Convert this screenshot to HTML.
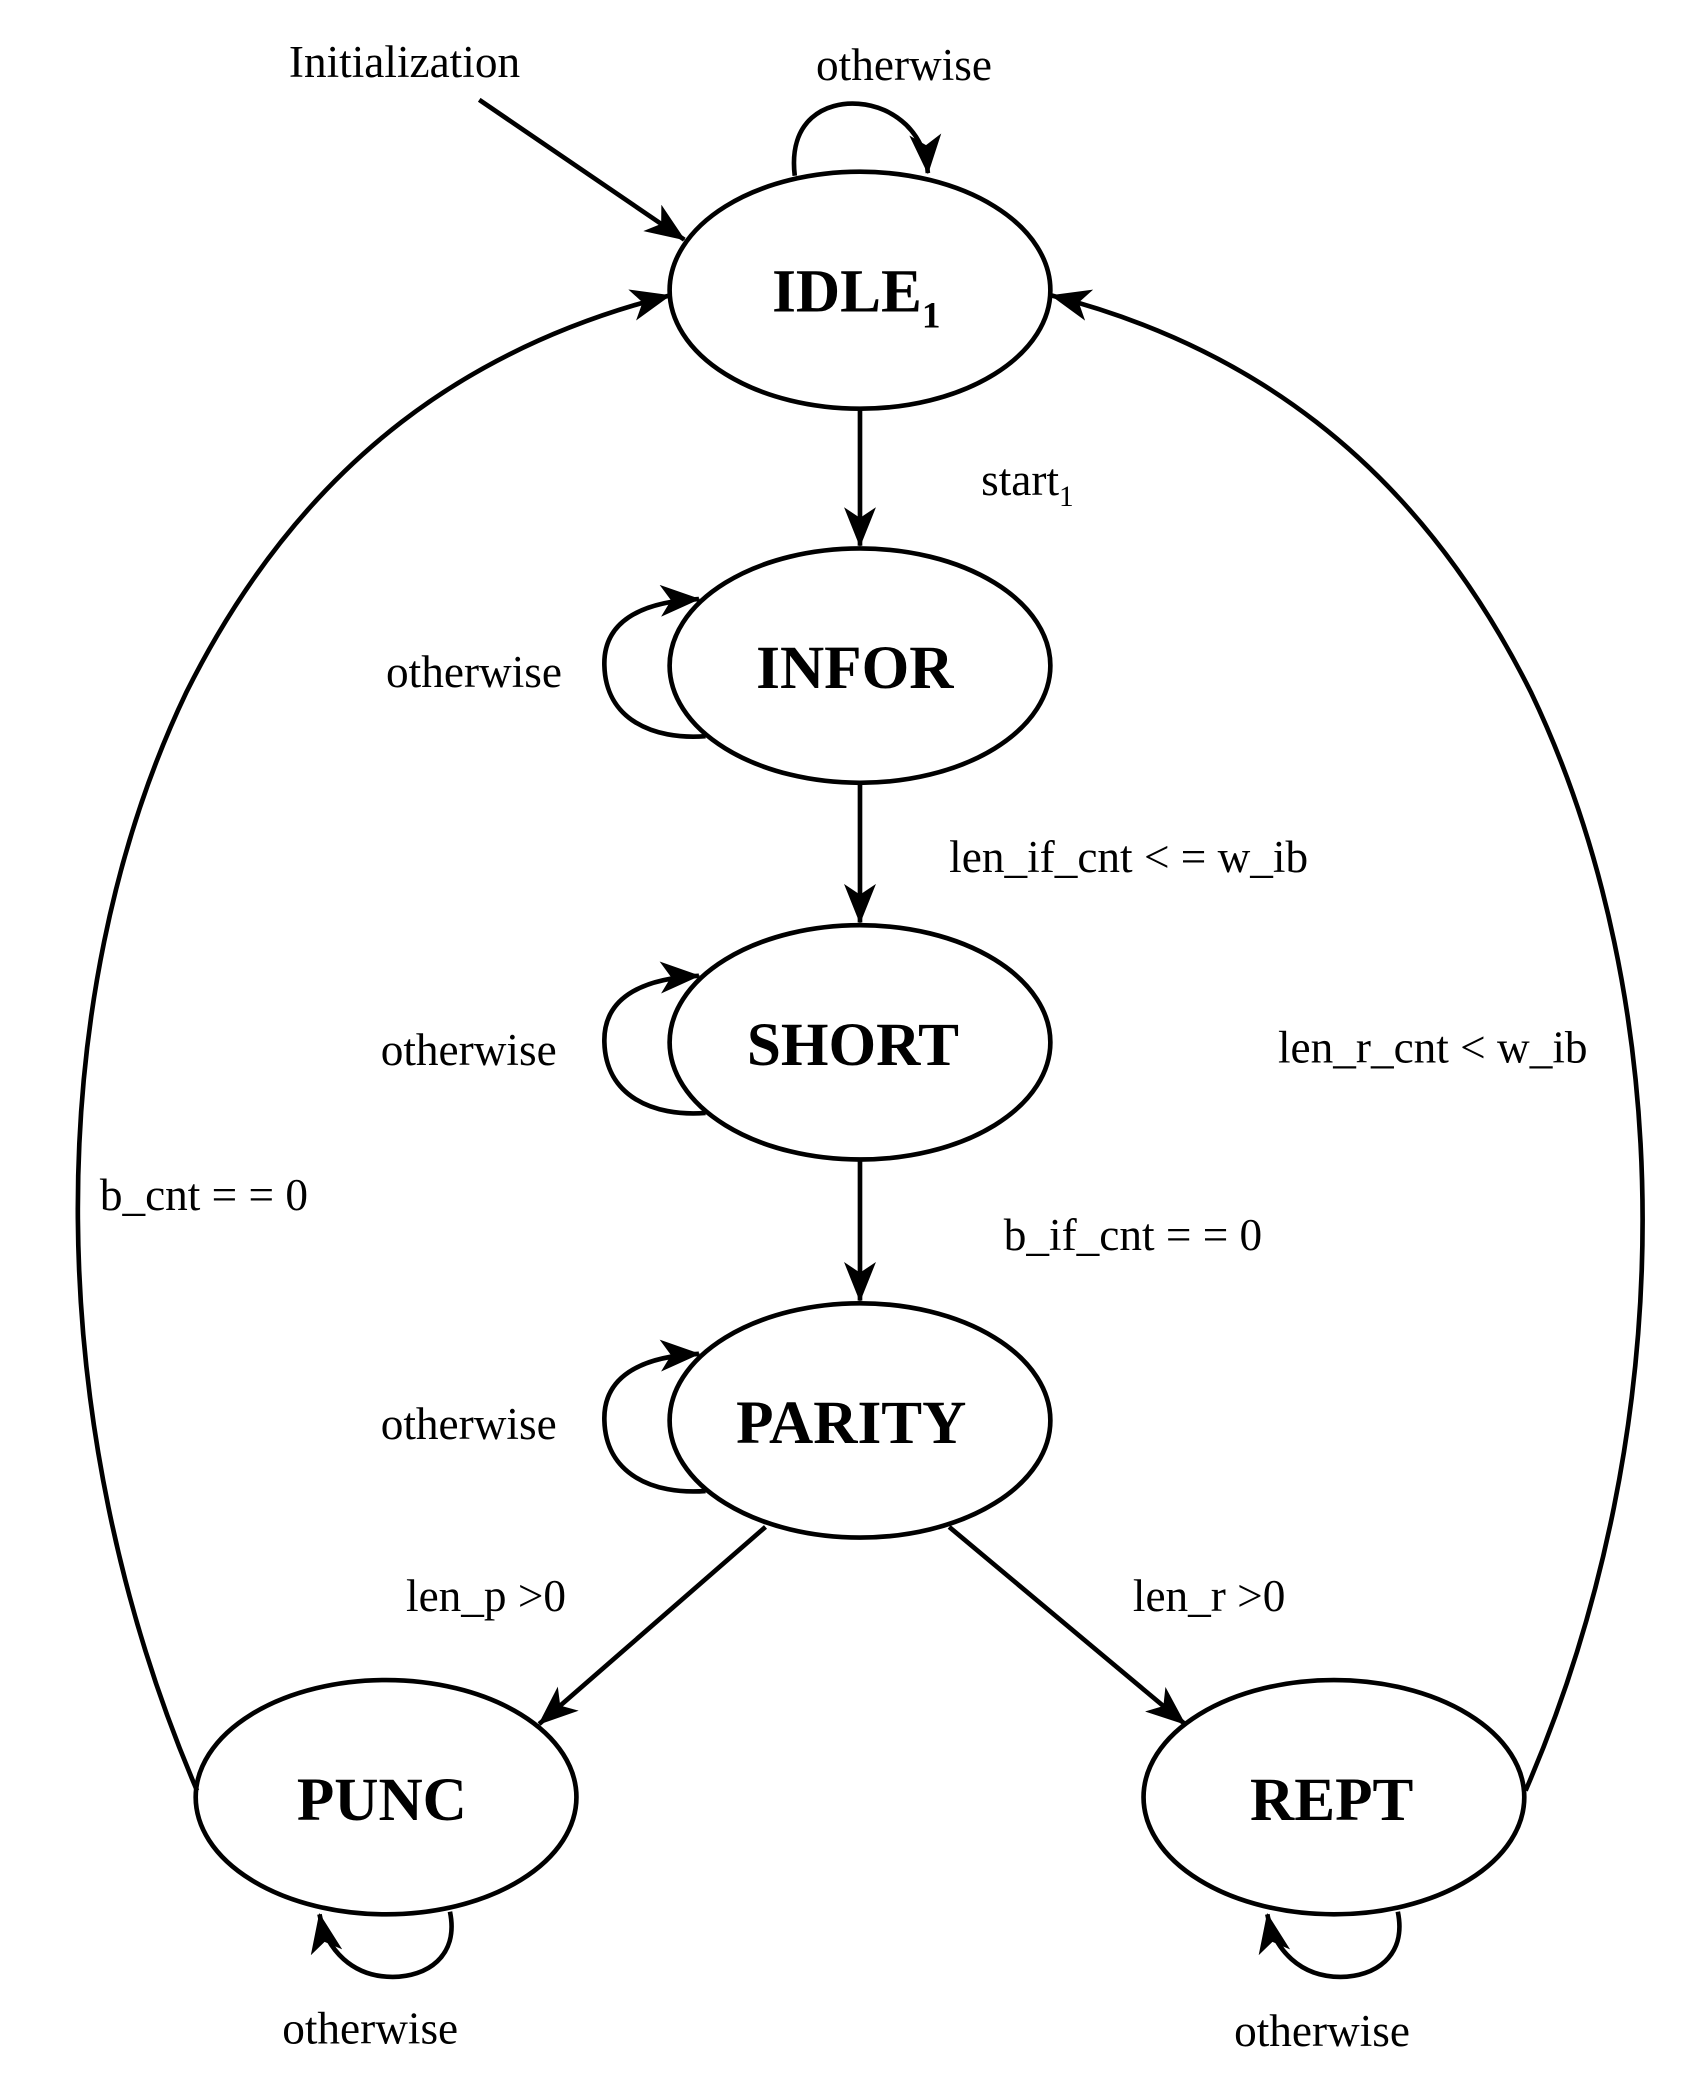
<!DOCTYPE html>
<html><head><meta charset="utf-8">
<style>
html,body{margin:0;padding:0;background:#fff;}
svg{display:block;}
.l{font-family:"Liberation Serif",serif;font-size:34px;fill:#000;}
.s{font-family:"Liberation Serif",serif;font-size:46px;font-weight:bold;fill:#000;}
</style></head><body>
<svg width="1704" height="2085" viewBox="0 0 1280 1566.2" preserveAspectRatio="none" xmlns="http://www.w3.org/2000/svg">
<defs>
<marker id="a" viewBox="0 0 10 10" refX="9" refY="5" markerWidth="10" markerHeight="10" markerUnits="userSpaceOnUse" orient="auto">
</marker>
<marker id="ah" viewBox="0 0 30 24" refX="29" refY="12" markerWidth="30" markerHeight="24" markerUnits="userSpaceOnUse" orient="auto">
<path d="M0,0 L30,12 L0,24 L8,12 Z" fill="#000"/>
</marker>
</defs>
<g fill="none" stroke="#000" stroke-width="3.5">
<ellipse cx="646" cy="218" rx="143" ry="89"/>
<ellipse cx="646" cy="500" rx="143" ry="88"/>
<ellipse cx="646" cy="783" rx="143" ry="88"/>
<ellipse cx="646" cy="1067" rx="143" ry="88"/>
<ellipse cx="290" cy="1350" rx="143" ry="88"/>
<ellipse cx="1002" cy="1350" rx="143" ry="88"/>
<line x1="646" y1="307" x2="646" y2="410" marker-end="url(#ah)"/>
<line x1="646" y1="588" x2="646" y2="693" marker-end="url(#ah)"/>
<line x1="646" y1="871" x2="646" y2="977" marker-end="url(#ah)"/>
<line x1="575" y1="1147" x2="405" y2="1295" marker-end="url(#ah)"/>
<line x1="713" y1="1147" x2="890" y2="1295" marker-end="url(#ah)"/>
<line x1="360" y1="75" x2="514" y2="180" marker-end="url(#ah)"/>
<path d="M597,132 C592,90 620,76 645,78 C672,80 695,100 697,130" marker-end="url(#ah)"/>
<path d="M530,553 C490,556 455,540 454,500 C453,468 480,452 525,450" marker-end="url(#ah)"/>
<path d="M530,836 C490,839 455,823 454,783 C453,751 480,735 525,733" marker-end="url(#ah)"/>
<path d="M530,1120 C490,1123 455,1107 454,1067 C453,1035 480,1019 525,1017" marker-end="url(#ah)"/>
<path d="M148,1345 C30,1070 30,750 140,520 C230,340 360,258 503,222" marker-end="url(#ah)"/>
<path d="M1146,1345 C1265,1070 1260,750 1150,520 C1060,340 930,258 790,222" marker-end="url(#ah)"/>
<path d="M338,1436 C345,1470 320,1485 295,1485 C265,1485 245,1465 240,1438" marker-end="url(#ah)"/>
<path d="M1050,1436 C1057,1470 1032,1485 1007,1485 C977,1485 957,1465 952,1438" marker-end="url(#ah)"/>
</g>
<text class="l" x="217" y="58">Initialization</text>
<text class="l" x="613" y="60">otherwise</text>
<text class="s" x="580" y="234">IDLE<tspan font-size="28" dy="12">1</tspan></text>
<text class="l" x="737" y="372">start<tspan font-size="22" dy="8">1</tspan></text>
<text class="s" x="568" y="517">INFOR</text>
<text class="l" x="290" y="516">otherwise</text>
<text class="l" x="713" y="655">len_if_cnt &lt; = w_ib</text>
<text class="s" x="561" y="800">SHORT</text>
<text class="l" x="286" y="800">otherwise</text>
<text class="l" x="960" y="798">len_r_cnt &lt; w_ib</text>
<text class="l" x="75" y="909">b_cnt = = 0</text>
<text class="l" x="754" y="939">b_if_cnt = = 0</text>
<text class="s" x="553" y="1084">PARITY</text>
<text class="l" x="286" y="1081">otherwise</text>
<text class="l" x="305" y="1210">len_p &gt;0</text>
<text class="l" x="851" y="1210">len_r &gt;0</text>
<text class="s" x="223" y="1367">PUNC</text>
<text class="s" x="939" y="1367">REPT</text>
<text class="l" x="212" y="1535">otherwise</text>
<text class="l" x="927" y="1537">otherwise</text>
</svg>
</body></html>
